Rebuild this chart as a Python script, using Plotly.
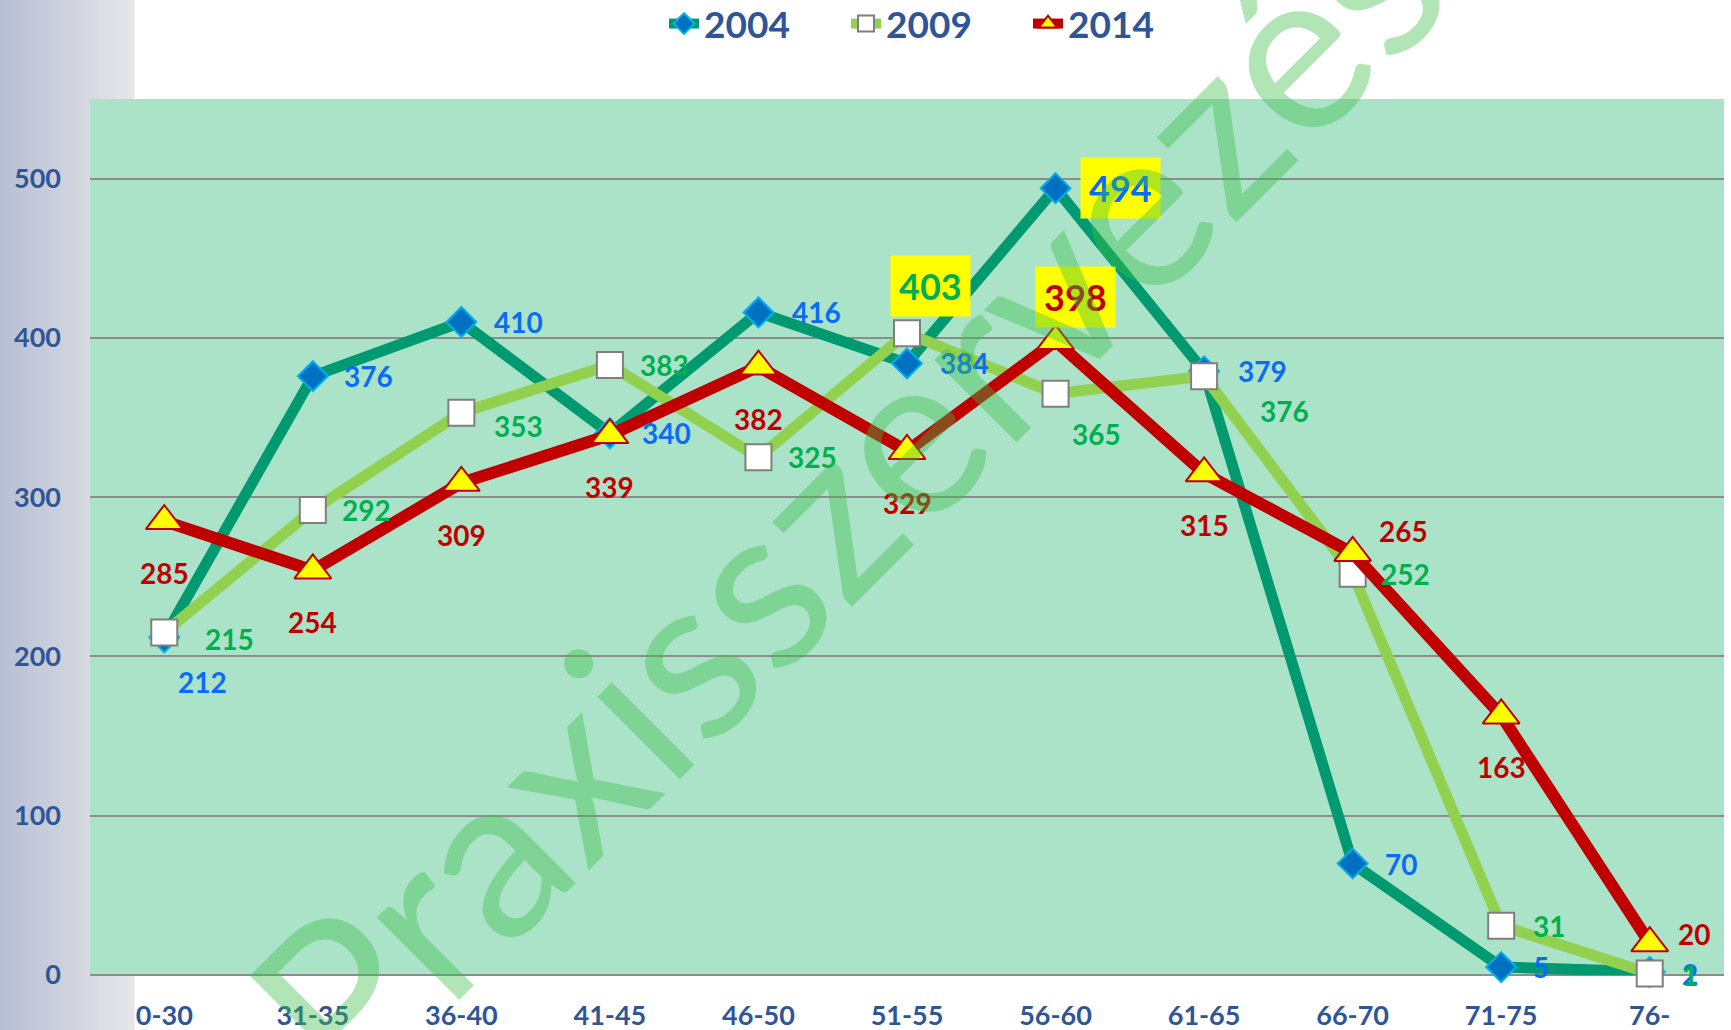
import plotly.graph_objects as go

# ---------------- data ----------------
categories = ["0-30", "31-35", "36-40", "41-45", "46-50", "51-55",
              "56-60", "61-65", "66-70", "71-75", "76-"]
y2004 = [212, 376, 410, 340, 416, 384, 494, 379, 70, 5, 2]
y2009 = [215, 292, 353, 383, 325, 403, 365, 376, 252, 31, 1]
y2014 = [285, 254, 309, 339, 382, 329, 398, 315, 265, 163, 20]
y_ticks = [0, 100, 200, 300, 400, 500]
watermark_text = "Praxisszervezés"

# index of the label shown in a yellow box for each series
hl2004, hl2009, hl2014 = 6, 5, 6

# label placement (pixels: dx to the right, dy downward) - styling only
off2004 = [(38, 45), (56, 0), (57, 0), (57, 0), (58, 0), (57, 0), (65, 0),
           (58, 0), (48, 0), (40, 0), (40, 2)]
off2009 = [(65, 6), (54, 0), (57, 13), (55, 0), (54, 0), (23, -47), (41, 40),
           (80, 35), (53, 0), (48, 0), (40, 2)]
off2014 = [(0, 52)] * 6 + [(20, -44), (0, 52), (51, -22), (0, 52), (44, -9)]

FONT = "Lato"
AXIS_BLUE = "#2f5597"

fig = go.Figure()

series = [
    ("2004", y2004, dict(color="#009970", width=11),
     dict(symbol="diamond", size=23, color="#0070c0", line=dict(color="#00b0f0", width=2)),
     "#0a6cf5", off2004, hl2004),
    ("2009", y2009, dict(color="#92d050", width=11),
     dict(symbol="square", size=26, color="#ffffff", line=dict(color="#7f7f7f", width=2)),
     "#00b050", off2009, hl2009),
    ("2014", y2014, dict(color="#c00000", width=12),
     dict(symbol="triangle-up", size=32, color="#ffff00", line=dict(color="#c00000", width=2)),
     "#c00000", off2014, hl2014),
]

annotations = []
for name, ys, line, marker, lcolor, offs, hl in series:
    fig.add_trace(go.Scatter(x=categories, y=ys, name=name, mode="lines+markers",
                             line=line, marker=marker, cliponaxis=False))
    for i, (c, v) in enumerate(zip(categories, ys)):
        dx, dy = offs[i]
        boxed = (i == hl)
        annotations.append(dict(
            x=c, y=v, xref="x", yref="y", text=str(v), showarrow=False,
            xanchor="center", yanchor="middle", xshift=dx, yshift=-dy,
            font=dict(family=FONT, size=36 if boxed else 28, color=lcolor, weight="bold"),
            bgcolor="#ffff00" if boxed else None,
            borderpad=8 if boxed else 0,
        ))

W, H = 1731, 1030
ml, mr, mt, mb = 90, 7, 99, 55
pw, ph = W - ml - mr, H - mt - mb

# watermark (centre given in figure pixels, converted to paper coords)
wm_cx, wm_cy = 843, 490
annotations.append(dict(
    x=(wm_cx - ml) / pw, y=(H - mb - wm_cy) / ph, xref="paper", yref="paper",
    text=watermark_text,
    showarrow=False, textangle=-45, xanchor="center", yanchor="middle",
    font=dict(family=FONT, size=230, color="rgba(60,190,70,0.4)"),
))

# left gradient panel (decoration) and plot-area fill drawn as shapes
c0, c1 = (183, 191, 211), (230, 230, 233)
panel_w = 134
N = 45
shapes = []
for k in range(N):
    t = k / (N - 1)
    col = tuple(round(a + (b - a) * t) for a, b in zip(c0, c1))
    px0 = panel_w * k / N
    px1 = panel_w * (k + 1) / N + 0.6
    shapes.append(dict(type="rect", xref="paper", yref="paper",
                       x0=(px0 - ml) / pw, x1=(px1 - ml) / pw,
                       y0=-mb / ph - 0.01, y1=(H - mb) / ph + 0.01,
                       fillcolor="rgb(%d,%d,%d)" % col, line=dict(width=0),
                       layer="below"))
shapes.append(dict(type="rect", xref="paper", yref="paper", x0=0, x1=1, y0=0, y1=1,
                   fillcolor="#abe3c9", line=dict(width=0), layer="below"))

fig.update_layout(
    width=W, height=H,
    margin=dict(l=ml, r=mr, t=mt, b=mb, autoexpand=False),
    paper_bgcolor="#ffffff",
    plot_bgcolor="rgba(0,0,0,0)",
    showlegend=True,
    legend=dict(orientation="h", x=(664 - ml) / pw, xanchor="left", y=(H - mb - 24) / ph,
                yanchor="middle", bgcolor="rgba(0,0,0,0)",
                font=dict(family=FONT, size=37, color=AXIS_BLUE, weight="bold"),
                itemwidth=30, entrywidth=137, entrywidthmode="pixels", tracegroupgap=0),
    annotations=annotations,
    shapes=shapes,
    xaxis=dict(type="category", range=[-0.5, 10.5], showgrid=False, zeroline=False,
               showline=False, ticks="", automargin=False,
               tickfont=dict(family=FONT, size=27, color=AXIS_BLUE, weight="bold"),
               ticklabelstandoff=22),
    yaxis=dict(range=[0, 550], tickvals=y_ticks, showgrid=True, gridcolor="#8c8c8c",
               gridwidth=2, zeroline=True, zerolinecolor="#8c8c8c", zerolinewidth=2,
               showline=False, ticks="", automargin=False,
               tickfont=dict(family=FONT, size=27, color=AXIS_BLUE, weight="bold"),
               ticklabelstandoff=28),
)

fig.write_html("out.html", config={"displayModeBar": False},
               post_script="document.body.style.margin='0px';document.body.style.overflow='hidden';")
